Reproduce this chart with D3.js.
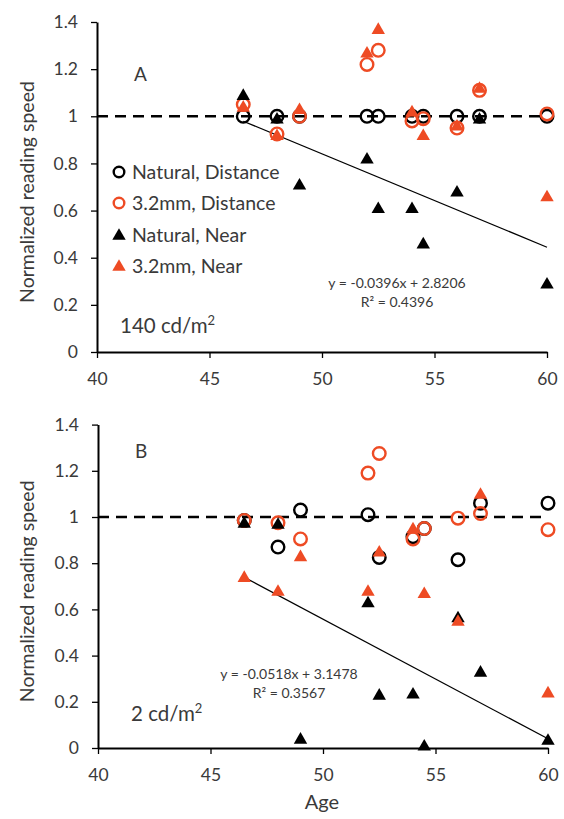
<!DOCTYPE html>
<html>
<head>
<meta charset="utf-8">
<script src="https://cdn.jsdelivr.net/npm/d3@7"></script>
<style>
  html, body { margin: 0; padding: 0; background: #fff; }
  svg { display: block; }
  text { font-family: Lato, "Open Sans", sans-serif; fill: #3a3a3a; }
</style>
</head>
<body>
<svg id="chart" width="564" height="819"></svg>
<script>
// Subject ages (shared by both luminance conditions)
const ages = [46.5, 48, 49, 52, 52.5, 54, 54.5, 56, 57, 60];

// Series labels, in legend order
const seriesNames = ["Natural, Distance", "3.2mm, Distance", "Natural, Near", "3.2mm, Near"];

// Panel A — 140 cd/m²
const brightNaturalDistance = [1.0, 1.0, 1.0, 1.0, 1.0, 1.0, 1.0, 1.0, 1.0, 1.0];
const brightPupilDistance   = [1.05, 0.925, 1.0, 1.22, 1.28, 0.98, 0.99, 0.95, 1.11, 1.01];
const brightNaturalNear     = [1.09, 0.99, 0.71, 0.82, 0.61, 0.61, 0.46, 0.68, 0.99, 0.29];
const brightPupilNear       = [1.04, 0.92, 1.03, 1.27, 1.37, 1.02, 0.92, 0.96, 1.12, 0.66];

// Panel B — 2 cd/m²
const dimNaturalDistance = [0.985, 0.87, 1.03, 1.01, 0.825, 0.915, 0.95, 0.815, 1.06, 1.06];
const dimPupilDistance   = [0.985, 0.975, 0.905, 1.19, 1.275, 0.905, 0.95, 0.995, 1.015, 0.945];
const dimNaturalNear     = [0.975, 0.97, 0.04, 0.63, 0.23, 0.235, 0.01, 0.565, 0.33, 0.035];
const dimPupilNear       = [0.74, 0.68, 0.83, 0.68, 0.85, 0.95, 0.67, 0.55, 1.10, 0.24];

// Linear fits of the natural-pupil near-reading speeds
const fitA = { slope: -0.0396, intercept: 2.8206, r2: "0.4396" };
const fitB = { slope: -0.0518, intercept: 3.1478, r2: "0.3567" };

// Axis ticks
const xTicks = [40, 45, 50, 55, 60];
const yTicks = [0, 0.2, 0.4, 0.6, 0.8, 1.0, 1.2, 1.4];

const RED = "#ee4b24";
const svg = d3.select("#chart");

function drawPanel(cfg) {
  const x = d3.scaleLinear().domain([40, 60]).range([cfg.left, cfg.right]);
  const y = d3.scaleLinear().domain([0, 1.4]).range([cfg.bottom, cfg.top]);
  const g = svg.append("g");

  // y axis
  const yAxis = d3.axisLeft(y).tickValues(yTicks)
    .tickFormat(d => String(+d.toFixed(1)))
    .tickSize(6).tickSizeOuter(0).tickPadding(13);
  const ya = g.append("g").attr("transform", `translate(${cfg.left},0)`).call(yAxis);
  ya.select(".domain").attr("stroke", "#000").attr("stroke-width", 2);
  ya.selectAll(".tick line").attr("stroke", "#000").attr("stroke-width", 1.3);
  ya.selectAll(".tick text").style("font-size", "17.5px").style("font-family", "Lato").attr("fill", "#3a3a3a");

  // x axis
  const xAxis = d3.axisBottom(x).tickValues(xTicks).tickSize(6).tickSizeOuter(0).tickPadding(15);
  const xa = g.append("g").attr("transform", `translate(0,${cfg.bottom})`).call(xAxis);
  xa.select(".domain").attr("stroke", "#000").attr("stroke-width", 2);
  xa.selectAll(".tick line").attr("stroke", "#000").attr("stroke-width", 1.3);
  xa.selectAll(".tick text").style("font-size", "17.5px").style("font-family", "Lato").attr("fill", "#3a3a3a");

  // y axis title
  g.append("text")
    .attr("transform", `translate(${cfg.titleX},${(cfg.top + cfg.bottom) / 2 + 5}) rotate(-90)`)
    .attr("text-anchor", "middle")
    .style("font-size", "19.5px")
    .text("Normalized reading speed");

  // reference line at 1.0
  g.append("line")
    .attr("x1", x(40)).attr("x2", x(60))
    .attr("y1", y(1)).attr("y2", y(1))
    .attr("stroke", "#000").attr("stroke-width", 2.5)
    .attr("stroke-dasharray", "11,7");

  // regression line over the age range
  const fit = cfg.fit;
  const ext = d3.extent(ages);
  g.append("line")
    .attr("x1", x(ext[0])).attr("y1", y(fit.slope * ext[0] + fit.intercept))
    .attr("x2", x(ext[1])).attr("y2", y(fit.slope * ext[1] + fit.intercept))
    .attr("stroke", "#000").attr("stroke-width", 1.2);

  const fmtSigned = v => (v < 0 ? "-" : "") + Math.abs(v).toFixed(4);
  const eq = g.append("text")
    .attr("x", cfg.eqX).attr("y", cfg.eqY)
    .attr("text-anchor", "middle")
    .style("font-size", "14px");
  eq.append("tspan").attr("x", cfg.eqX).attr("dy", 0)
    .text(`y = ${fmtSigned(fit.slope)}x + ${fit.intercept.toFixed(4)}`);
  eq.append("tspan").attr("x", cfg.eqX).attr("dy", "1.35em")
    .text(`R² = ${fit.r2}`);

  const tri = d3.symbol().type(d3.symbolTriangle).size(78);

  // markers, in series order
  const circles = (vals, color) => g.append("g").selectAll("circle")
    .data(ages.map((a, i) => [a, vals[i]])).join("circle")
    .attr("cx", d => x(d[0])).attr("cy", d => y(d[1])).attr("r", 6.3)
    .attr("fill", "none").attr("stroke", color).attr("stroke-width", 2.4);
  const triangles = (vals, color) => g.append("g").selectAll("path")
    .data(ages.map((a, i) => [a, vals[i]])).join("path")
    .attr("d", tri)
    .attr("transform", d => `translate(${x(d[0])},${y(d[1]) + 1})`)
    .attr("fill", color);

  circles(cfg.series[0], "#000");
  circles(cfg.series[1], RED);
  triangles(cfg.series[2], "#000");
  triangles(cfg.series[3], RED);

  // panel letter and luminance label
  g.append("text").attr("x", cfg.left + 37).attr("y", cfg.letterY)
    .style("font-size", "19px").text(cfg.letter);
  const lum = g.append("text").attr("x", cfg.lumX).attr("y", cfg.lumY)
    .style("font-size", "20.5px");
  lum.append("tspan").text(cfg.lum);
  lum.append("tspan").attr("dy", -8).style("font-size", "13px").text("2");

  return { x, y, g };
}

drawPanel({
  left: 97, right: 547, top: 22, bottom: 352, titleX: 34,
  fit: fitA, eqX: 397, eqY: 288, letter: "A", letterY: 81,
  lum: "140 cd/m", lumX: 120, lumY: 333,
  series: [brightNaturalDistance, brightPupilDistance, brightNaturalNear, brightPupilNear]
});

drawPanel({
  left: 98, right: 548, top: 424.6, bottom: 748, titleX: 34,
  fit: fitB, eqX: 289, eqY: 679, letter: "B", letterY: 458,
  lum: "2 cd/m", lumX: 131, lumY: 721,
  series: [dimNaturalDistance, dimPupilDistance, dimNaturalNear, dimPupilNear]
});

// legend inside panel A
const legend = svg.append("g");
const legendRows = [172, 203, 235, 266];
seriesNames.forEach((name, i) => {
  const row = legend.append("g").attr("transform", `translate(119,${legendRows[i]})`);
  const color = (i === 1 || i === 3) ? RED : "#000";
  if (i < 2) {
    row.append("circle").attr("r", 5.3).attr("fill", "none").attr("stroke", color).attr("stroke-width", 2.4);
  } else {
    row.append("path").attr("d", d3.symbol().type(d3.symbolTriangle).size(78)).attr("transform", "translate(0,1)").attr("fill", color);
  }
  row.append("text").attr("x", 13).attr("dy", "0.36em").style("font-size", "19.5px").text(name);
});

// shared x axis title
svg.append("text").attr("x", 322).attr("y", 809).attr("text-anchor", "middle")
  .style("font-size", "20px").text("Age");
</script>
</body>
</html>
